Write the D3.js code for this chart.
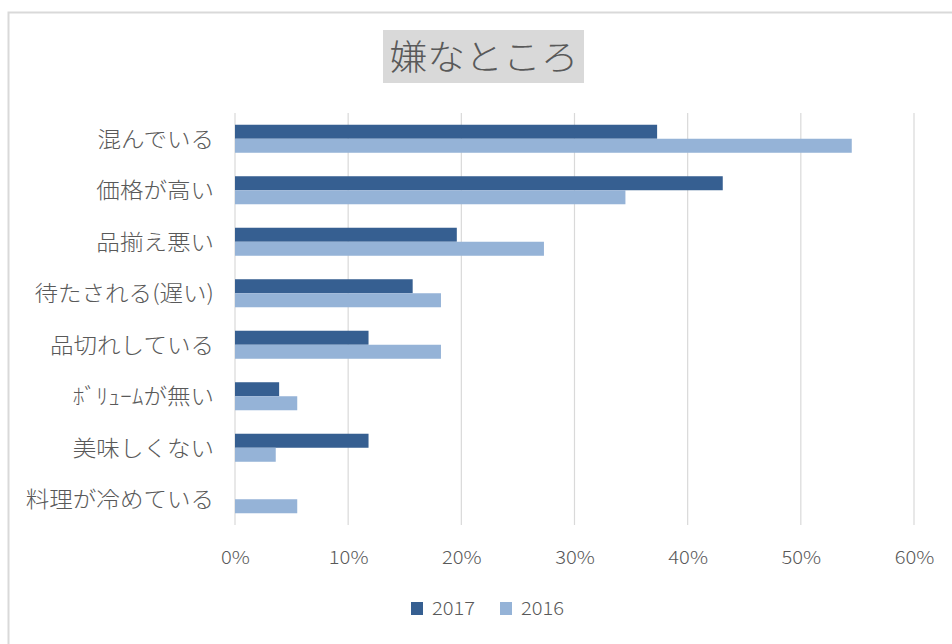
<!DOCTYPE html>
<html>
<head>
<meta charset="utf-8">
<script src="https://cdn.jsdelivr.net/npm/d3@7"></script>
<style>
  body { margin: 0; background: #fff; }
  text { font-family: "Noto Sans CJK JP", "Noto Sans", sans-serif; font-weight: 300; fill: #595959; }
</style>
</head>
<body>
<svg id="chart" width="952" height="644"></svg>
<script>
const categories = ["混んでいる", "価格が高い", "品揃え悪い", "待たされる(遅い)", "品切れしている", "ﾎﾞﾘｭｰﾑが無い", "美味しくない", "料理が冷めている"];
const series = ["2017", "2016"];
const values2017 = [0.373, 0.431, 0.196, 0.157, 0.118, 0.039, 0.118, 0];
const values2016 = [0.545, 0.345, 0.273, 0.182, 0.182, 0.055, 0.036, 0.055];
const xTicks = [0, 0.1, 0.2, 0.3, 0.4, 0.5, 0.6];
const colors = ["#365f91", "#95b3d7"];

const svg = d3.select("#chart");

// chart frame
svg.append("rect")
  .attr("x", 8.5).attr("y", 12.5)
  .attr("width", 1000).attr("height", 700)
  .attr("fill", "none")
  .attr("stroke", "#d9d9d9")
  .attr("stroke-width", 2);

// title
svg.append("rect")
  .attr("x", 383).attr("y", 30)
  .attr("width", 201).attr("height", 53)
  .attr("fill", "#d9d9d9");
svg.append("g")
  .attr("transform", "translate(484,70) scale(1.08,1)")
  .append("text")
  .attr("text-anchor", "middle")
  .attr("font-size", 35)
  .text("嫌なところ");

const x = d3.scaleLinear().domain([0, 0.6]).range([235, 914]);
const y = d3.scaleBand().domain(categories).range([113, 525]).paddingInner(0.456).paddingOuter(0.228);
const ySub = d3.scaleBand().domain(series).range([0, y.bandwidth()]);

// grid
svg.append("g")
  .selectAll("line")
  .data(xTicks)
  .join("line")
  .attr("x1", d => x(d)).attr("x2", d => x(d))
  .attr("y1", 113).attr("y2", 525)
  .attr("stroke", "#d9d9d9")
  .attr("stroke-width", 1.2);

// x axis labels
const xAxis = svg.append("g")
  .attr("transform", "translate(0,525)")
  .call(d3.axisBottom(x).tickValues(xTicks).tickFormat(d3.format(".0%")).tickSize(0).tickPadding(0));
xAxis.select(".domain").remove();
xAxis.selectAll("text")
  .attr("y", 0).attr("dy", 0)
  .attr("transform", "translate(0,39) scale(1.12,1)")
  .attr("font-size", 18)
  .style("fill", "#595959");

// y axis labels
const yAxis = svg.append("g")
  .attr("transform", "translate(235,0)")
  .call(d3.axisLeft(y).tickSize(0).tickPadding(0));
yAxis.select(".domain").remove();
yAxis.selectAll("text")
  .attr("x", 0).attr("dy", 0)
  .attr("transform", "translate(-21,8) scale(1.07,1)")
  .attr("font-size", 22)
  .style("fill", "#595959");

// bars
const rows = categories.map((c, i) => ({ cat: c, vals: [values2017[i], values2016[i]] }));
svg.append("g")
  .selectAll("g")
  .data(rows)
  .join("g")
  .attr("transform", d => `translate(0,${y(d.cat)})`)
  .selectAll("rect")
  .data(d => d.vals.map((v, j) => ({ s: series[j], v: v, j: j })))
  .join("rect")
  .attr("x", x(0))
  .attr("y", d => ySub(d.s))
  .attr("width", d => x(d.v) - x(0))
  .attr("height", ySub.bandwidth())
  .attr("fill", d => colors[d.j]);

// legend
const legend = svg.append("g").attr("transform", "translate(411,602)");
const items = legend.selectAll("g")
  .data(series)
  .join("g")
  .attr("transform", (d, i) => `translate(${i * 89},0)`);
items.append("rect")
  .attr("width", 12).attr("height", 13)
  .attr("fill", (d, i) => colors[i]);
items.append("g")
  .attr("transform", "translate(21,13) scale(1.12,1)")
  .append("text")
  .attr("font-size", 18)
  .text(d => d);
</script>
</body>
</html>
